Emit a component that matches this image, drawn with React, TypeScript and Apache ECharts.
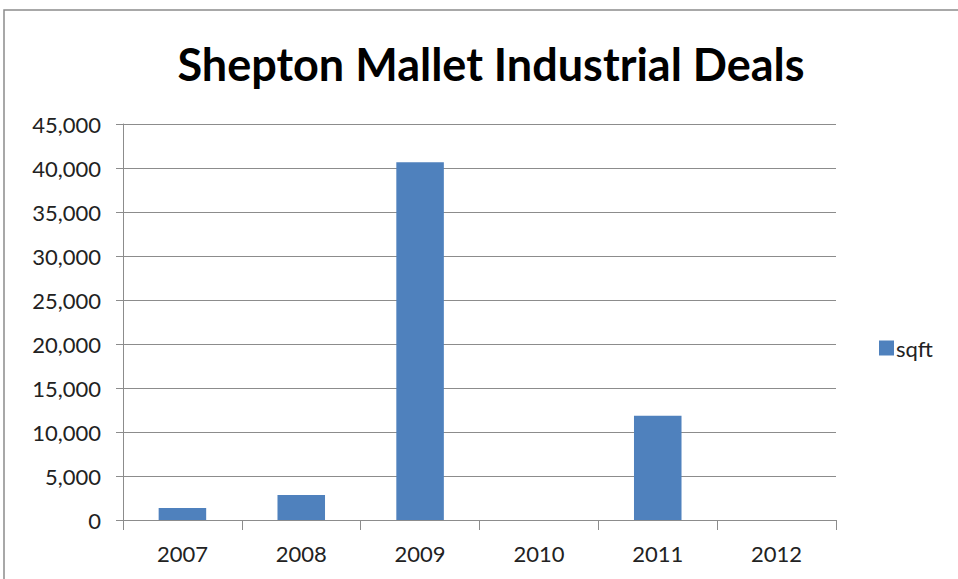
import React, { useEffect, useRef } from "react";
import * as echarts from "echarts";

const categories = ["2007", "2008", "2009", "2010", "2011", "2012"];
const sqft = [1370, 2850, 40650, 0, 11850, 0];
const seriesName = "sqft";
const titleText = "Shepton Mallet Industrial Deals";

const FONT = "Lato, 'Open Sans', sans-serif";

export default function App() {
  const ref = useRef<HTMLDivElement>(null);
  useEffect(() => {
    if (!ref.current) return;
    const chart = echarts.init(ref.current, null, { renderer: "svg" });
    chart.setOption({
      animation: false,
      backgroundColor: "#ffffff",
      title: {
        text: titleText,
        left: 486,
        textAlign: "center",
        top: 36,
        textStyle: { fontFamily: FONT, fontWeight: "bold", fontSize: 45, color: "#000" },
      },
      graphic: [
        {
          type: "rect",
          shape: { x: 4, y: 10, width: 1000, height: 700 },
          style: { fill: "none", stroke: "#8c8c8c", lineWidth: 1.5 },
          silent: true,
        },
      ],
      legend: {
        data: [seriesName],
        orient: "vertical",
        left: 874,
        top: 332,
        itemWidth: 15,
        itemHeight: 15,
        itemGap: 5,
        icon: "rect",
        textStyle: { fontFamily: FONT, fontSize: 22, color: "#222", padding: [0, 0, 0, -3] },
      },
      grid: { left: 123, right: 122, top: 124, bottom: 59, containLabel: false },
      xAxis: {
        type: "category",
        data: categories,
        boundaryGap: true,
        axisLine: { show: true, lineStyle: { color: "#8c8c8c", width: 1 } },
        axisTick: { show: true, length: 10, interval: 0, lineStyle: { color: "#8c8c8c" } },
        axisLabel: { fontFamily: FONT, fontSize: 22, color: "#222", margin: 22, interval: 0 },
      },
      yAxis: {
        type: "value",
        min: 0,
        max: 45000,
        interval: 5000,
        axisLine: { show: true, lineStyle: { color: "#8c8c8c", width: 1 } },
        axisTick: { show: true, length: 7, lineStyle: { color: "#8c8c8c" } },
        axisLabel: {
          fontFamily: FONT,
          fontSize: 22,
          color: "#222",
          margin: 22,
          formatter: (v: number) => v.toLocaleString("en-US"),
        },
        splitLine: { show: true, lineStyle: { color: "#8c8c8c", width: 1 } },
      },
      series: [
        {
          name: seriesName,
          type: "bar",
          data: sqft,
          barWidth: "40%",
          itemStyle: { color: "#4F81BD" },
        },
      ],
    });
    return () => chart.dispose();
  }, []);
  return (
    <div
      ref={ref}
      style={{ position: "fixed", left: 0, top: 0, width: 958, height: 579 }}
    />
  );
}
